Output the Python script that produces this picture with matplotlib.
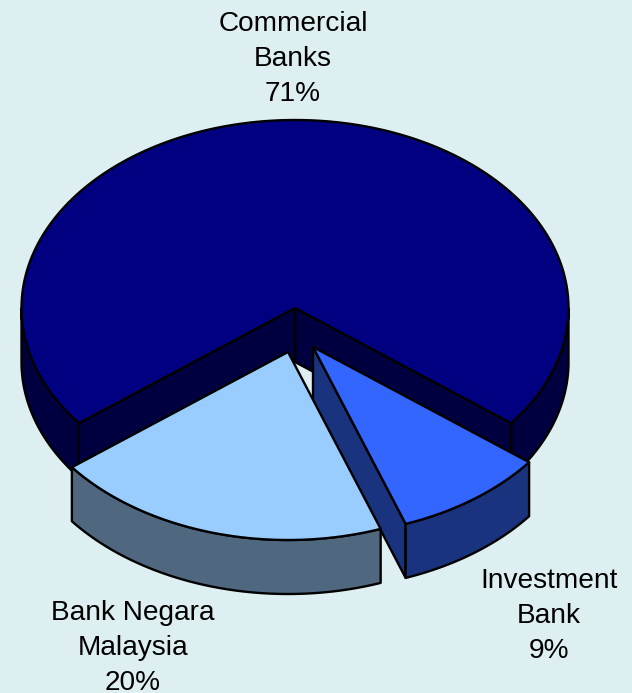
import numpy as np
import matplotlib
matplotlib.use('Agg')
import matplotlib.pyplot as plt
from matplotlib.patches import Polygon

# Share of each group, going counter-clockwise round the pie
names = ['Commercial\nBanks', 'Bank Negara\nMalaysia', 'Investment\nBank']
shares = [71, 20, 9]

top_colors = ['#000080', '#99CCFF', '#3366FF']
side_colors = ['#000040', '#4F6880', '#1A337F']

# Pie layout, in pixels
cx, cy = 295, 308
rx, ry = 273.5, 188
depth = 54
offsets = [(0, 0), (-7, 44), (18, 39)]
label_pos = [(293, 59), (133, 648), (549, 616)]

plt.rcParams['font.family'] = ['Liberation Sans', 'DejaVu Sans']

fig = plt.figure(figsize=(6.32, 6.93), dpi=100, facecolor='#DEEFF2')
ax = fig.add_axes([0, 0, 1, 1])
ax.set_xlim(0, 632)
ax.set_ylim(693, 0)
ax.axis('off')


def rim(a1, a2, dx, dy, drop=0):
    t = np.radians(np.linspace(a1, a2, 200))
    return np.column_stack([cx + dx + rx * np.cos(t), cy + dy + drop - ry * np.sin(t)])


def shape(points, color, z):
    ax.add_patch(Polygon(points, closed=True, facecolor=color, edgecolor='black',
                         linewidth=1.7, joinstyle='round', zorder=z))


def outer_wall(a1, a2, dx, dy, color, z):
    shape(np.vstack([rim(a1, a2, dx, dy), rim(a2, a1, dx, dy, depth)]), color, z)


def cut_face(a, dx, dy, color, z):
    p = rim(a, a, dx, dy)[0]
    apex = np.array([cx + dx, cy + dy])
    down = np.array([0, depth])
    shape([apex, p, p + down, apex + down], color, z)


# slice angles from the shares, the big slice is centred on the top
sweeps = [s * 3.6 for s in shares]
start = 90 - sweeps[0] / 2
a0, a1 = start, start + sweeps[0]
a2 = a1 + sweeps[1]
a3 = a2 + sweeps[2]

# big slice
dx, dy = offsets[0]
outer_wall(a0, 0, dx, dy, side_colors[0], 1)
outer_wall(180, a1, dx, dy, side_colors[0], 1)
cut_face(a0, dx, dy, side_colors[0], 2)
cut_face(a1, dx, dy, side_colors[0], 2)
shape(np.vstack([[cx + dx, cy + dy], rim(a0, a1, dx, dy)]), top_colors[0], 3)

# investment bank slice
dx, dy = offsets[2]
cut_face(a2, dx, dy, side_colors[2], 4)
outer_wall(a2, a3, dx, dy, side_colors[2], 4)
shape(np.vstack([[cx + dx, cy + dy], rim(a2, a3, dx, dy)]), top_colors[2], 5)

# bank negara slice goes over the cut side of the blue one
dx, dy = offsets[1]
outer_wall(a1, a2, dx, dy, side_colors[1], 6)
shape(np.vstack([[cx + dx, cy + dy], rim(a1, a2, dx, dy)]), top_colors[1], 7)

for name, share, (x, y) in zip(names, shares, label_pos):
    ax.text(x, y, f'{name}\n{share}%', ha='center', va='center', fontsize=20.2,
            linespacing=1.45, color='black', zorder=10)

fig.savefig('out.png', dpi=100, facecolor=fig.get_facecolor())
